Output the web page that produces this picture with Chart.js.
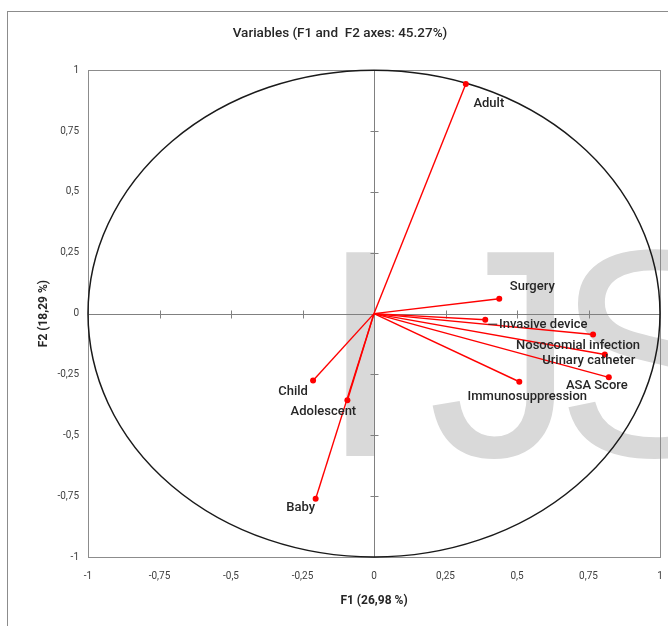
<!DOCTYPE html>
<html>
<head>
<meta charset="utf-8">
<script src="https://cdn.jsdelivr.net/npm/chart.js@4"></script>
<style>
  html, body { margin: 0; padding: 0; background: #ffffff; }
  #wrap { width: 668px; height: 626px; position: relative; }
</style>
</head>
<body>
<div id="wrap"><canvas id="c" width="668" height="626"></canvas></div>
<script>
// ---- data ----
const variables = ["Adult", "Surgery", "Invasive device", "Nosocomial infection", "Urinary catheter",
                   "ASA Score", "Immunosuppression", "Child", "Adolescent", "Baby"];
const f1Values = [0.321, 0.438, 0.389, 0.766, 0.807, 0.821, 0.508, -0.213, -0.093, -0.204];
const f2Values = [0.943, 0.061, -0.025, -0.086, -0.168, -0.262, -0.280, -0.275, -0.356, -0.761];
const xTickLabels = ["-1", "-0,75", "-0,5", "-0,25", "0", "0,25", "0,5", "0,75", "1"];
const yTickLabels = ["-1", "-0,75", "-0,5", "-0,25", "0", "0,25", "0,5", "0,75", "1"];
const chartTitle = "Variables (F1 and  F2 axes: 45.27%)";
const xAxisTitle = "F1 (26,98 %)";
const yAxisTitle = "F2 (18,29 %)";
const watermarkLetters = ["I", "J", "S"];

// label placement (pixel offsets from each point, label centre)
const labelOffsets = [[23, 20], [33, -12], [58, 5], [-15, 11], [-16, 6], [-12, 8], [8, 15], [-20, 11], [-24, 11], [-15, 9]];
// watermark letter origins (pixels)
const watermarkX = [319, 428, 555];

const RED = "#ff0000";
const datasets = variables.map((name, i) => ({
  label: name,
  data: [{x: 0, y: 0}, {x: f1Values[i], y: f2Values[i]}],
  showLine: true,
  borderColor: RED,
  backgroundColor: RED,
  borderWidth: 1.4,
  pointRadius: [0, 3],
  pointHoverRadius: [0, 3],
  pointBorderWidth: 0,
  tension: 0
}));

const decorPlugin = {
  id: "decor",
  beforeDraw(chart) {
    const ctx = chart.ctx;
    ctx.save();
    ctx.fillStyle = "#ffffff";
    ctx.fillRect(0, 0, chart.width, chart.height);
    ctx.strokeStyle = "#8c8c8c";
    ctx.lineWidth = 1;
    ctx.strokeRect(7.5, 11.5, 720, 720);
    ctx.restore();
  },
  beforeDatasetsDraw(chart) {
    const ctx = chart.ctx;
    const xs = chart.scales.x, ys = chart.scales.y;
    const a = chart.chartArea;
    ctx.save();
    // watermark
    ctx.fillStyle = "#d9d9d9";
    ctx.font = "296px 'Liberation Sans', Arial, sans-serif";
    ctx.textBaseline = "alphabetic";
    ctx.textAlign = "left";
    watermarkLetters.forEach((ch, i) => ctx.fillText(ch, watermarkX[i], 456));
    // plot border
    ctx.strokeStyle = "#8c8c8c";
    ctx.lineWidth = 1;
    ctx.strokeRect(Math.round(a.left) + 0.5, Math.round(a.top) + 0.5, Math.round(a.right - a.left), Math.round(a.bottom - a.top));
    // axes through origin
    const x0 = Math.round(xs.getPixelForValue(0)) + 0.5;
    const y0 = Math.round(ys.getPixelForValue(0)) + 0.5;
    ctx.strokeStyle = "#808080";
    ctx.beginPath();
    ctx.moveTo(a.left, y0); ctx.lineTo(a.right, y0);
    ctx.moveTo(x0, a.top); ctx.lineTo(x0, a.bottom);
    xs.ticks.forEach(t => {
      const px = Math.round(xs.getPixelForValue(t.value)) + 0.5;
      ctx.moveTo(px, y0 - 4); ctx.lineTo(px, y0 + 4);
    });
    ys.ticks.forEach(t => {
      const py = Math.round(ys.getPixelForValue(t.value)) + 0.5;
      ctx.moveTo(x0 - 4, py); ctx.lineTo(x0 + 4, py);
    });
    ctx.stroke();
    // unit circle (ellipse in pixel space)
    const cx = xs.getPixelForValue(0), cy = ys.getPixelForValue(0);
    const rx = xs.getPixelForValue(1) - cx, ry = cy - ys.getPixelForValue(1);
    ctx.strokeStyle = "#1a1a1a";
    ctx.lineWidth = 1.5;
    ctx.beginPath();
    ctx.ellipse(cx, cy, rx, ry, 0, 0, Math.PI * 2);
    ctx.stroke();
    ctx.restore();
  },
  afterDatasetsDraw(chart) {
    const ctx = chart.ctx;
    const xs = chart.scales.x, ys = chart.scales.y;
    ctx.save();
    ctx.font = "500 13px Roboto, 'Open Sans', sans-serif";
    ctx.fillStyle = "#262626";
    ctx.textAlign = "center";
    ctx.textBaseline = "middle";
    variables.forEach((name, i) => {
      const px = xs.getPixelForValue(f1Values[i]);
      const py = ys.getPixelForValue(f2Values[i]);
      const [dx, dy] = labelOffsets[i];
      ctx.fillText(name, px + dx, py + dy);
      if (name === "Invasive device") {
        ctx.strokeStyle = "#262626";
        ctx.lineWidth = 1;
        ctx.beginPath();
        ctx.moveTo(px + 3, py + 4.5);
        ctx.lineTo(px + 12, py + 4.5);
        ctx.stroke();
      }
    });
    ctx.restore();
  }
};

new Chart(document.getElementById("c"), {
  type: "scatter",
  data: { datasets },
  plugins: [decorPlugin],
  options: {
    responsive: false,
    animation: false,
    events: [],
    layout: { padding: { left: 20, right: 8, top: 10, bottom: 10 } },
    plugins: {
      legend: { display: false },
      tooltip: { enabled: false },
      title: {
        display: true,
        text: chartTitle,
        color: "#262626",
        font: { family: "Roboto, sans-serif", size: 13.5, weight: "500" },
        padding: { top: 16, bottom: 28 }
      }
    },
    scales: {
      x: {
        type: "linear",
        min: -1, max: 1,
        grid: { display: false, drawTicks: false },
        border: { display: false },
        ticks: {
          stepSize: 0.25,
          padding: 13,
          color: "#404040",
          font: { family: "Roboto, sans-serif", size: 10 },
          callback: (v, i) => xTickLabels[i]
        },
        title: {
          display: true,
          text: xAxisTitle,
          color: "#262626",
          font: { family: "Roboto, sans-serif", size: 12, weight: "bold" },
          padding: { top: 4, bottom: 8 }
        },
        afterFit: s => { s.height = 59; s.paddingLeft = 0; s.paddingRight = 0; }
      },
      y: {
        type: "linear",
        min: -1, max: 1,
        grid: { display: false, drawTicks: false },
        border: { display: false },
        ticks: {
          stepSize: 0.25,
          padding: 9,
          color: "#404040",
          font: { family: "Roboto, sans-serif", size: 10 },
          callback: (v, i) => yTickLabels[i]
        },
        title: {
          display: true,
          text: yAxisTitle,
          color: "#262626",
          font: { family: "Roboto, sans-serif", size: 12, weight: "bold" },
          padding: { top: 17, bottom: 4 }
        },
        afterFit: s => { s.width = 68; s.paddingTop = 0; s.paddingBottom = 0; }
      }
    }
  }
});
</script>
</body>
</html>
